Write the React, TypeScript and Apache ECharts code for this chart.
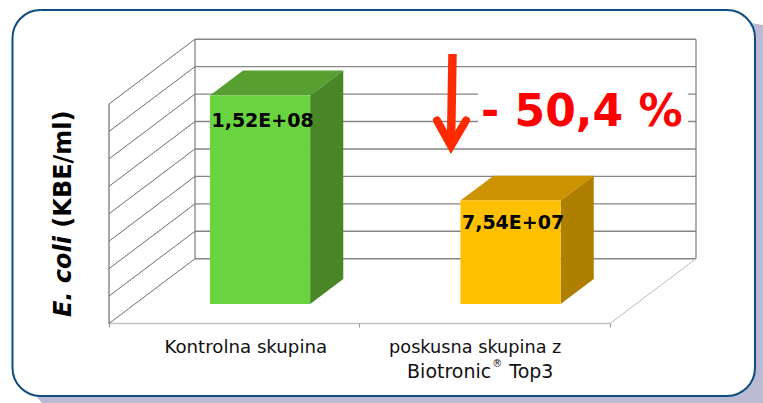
import React, { useEffect, useRef } from "react";
import * as echarts from "echarts";

const categories = ["Kontrolna skupina", "poskusna skupina z\nBiotronic® Top3"];
const values = [1.52e8, 7.54e7];
const valueLabels = ["1,52E+08", "7,54E+07"];
const yTicks = [0, 2e7, 4e7, 6e7, 8e7, 1e8, 1.2e8, 1.4e8, 1.6e8];
const faceColors = ["#6AD340", "#FFC000"];
const topColors = ["#569F30", "#CE9300"];
const sideColors = ["#488627", "#AE7F00"];
const dropLabel = "- 50,4 %";
const axisName = ["E. coli", " (KBE/ml)"];

const DEPTH_X = 86;
const DEPTH_Y = 64.8;
const BAR_FRONT = 0.3;
const BAR_DEPTH = 0.385;
const BAR_WIDTH = 0.4;
const LABEL_DROP = [24, 21];

function renderWall(params: any, api: any) {
  const cs = params.coordSys;
  const y = api.coord([0, api.value(0)])[1];
  const left = cs.x;
  const right = cs.x + cs.width;
  const isFloor = api.value(0) === 0;
  const children: any[] = [
    {
      type: "line",
      shape: { x1: left, y1: y, x2: left + DEPTH_X, y2: y - DEPTH_Y },
      style: { stroke: "#6e6e6e", lineWidth: 1 },
    },
    {
      type: "line",
      shape: { x1: left + DEPTH_X, y1: y - DEPTH_Y, x2: right + DEPTH_X, y2: y - DEPTH_Y },
      style: { stroke: "#868686", lineWidth: 1.4 },
    },
  ];
  if (isFloor) {
    children.push({
      type: "line",
      shape: { x1: right, y1: y, x2: right + DEPTH_X, y2: y - DEPTH_Y },
      style: { stroke: "#bdbdbd", lineWidth: 1 },
    });
    const topY = api.coord([0, yTicks[yTicks.length - 1]])[1];
    [left + DEPTH_X, right + DEPTH_X].forEach((x) =>
      children.push({
        type: "line",
        shape: { x1: x, y1: y - DEPTH_Y, x2: x, y2: topY - DEPTH_Y },
        style: { stroke: "#7a7a7a", lineWidth: 1.2 },
      })
    );
    children.push({
      type: "line",
      shape: { x1: left, y1: y, x2: left, y2: topY },
      style: { stroke: "#6e6e6e", lineWidth: 1.2 },
    });
  }
  return { type: "group", children };
}

function renderBar(params: any, api: any) {
  const i = params.dataIndex;
  const band = api.size([1, 0])[0];
  const cx = api.coord([i, 0])[0];
  const y0 = api.coord([i, 0])[1];
  const y1 = api.coord([i, api.value(1)])[1];
  const w = band * BAR_WIDTH;
  const fx = DEPTH_X * BAR_FRONT;
  const fy = DEPTH_Y * BAR_FRONT;
  const dx = DEPTH_X * BAR_DEPTH;
  const dy = DEPTH_Y * BAR_DEPTH;
  const x0 = cx + fx - w / 2;
  const x1 = x0 + w;
  const bot = y0 - fy;
  const top = y1 - fy;
  return {
    type: "group",
    children: [
      {
        type: "polygon",
        shape: { points: [[x0, top], [x1, top], [x1 + dx, top - dy], [x0 + dx, top - dy]] },
        style: { fill: topColors[i] },
      },
      {
        type: "polygon",
        shape: { points: [[x1, bot], [x1 + dx, bot - dy], [x1 + dx, top - dy], [x1, top]] },
        style: { fill: sideColors[i] },
      },
      { type: "rect", shape: { x: x0, y: top, width: w, height: bot - top }, style: { fill: faceColors[i] } },
      {
        type: "text",
        style: {
          x: cx + fx + 2.5,
          y: top + LABEL_DROP[i],
          text: valueLabels[i],
          fill: "#000",
          font: 'bold 19px "DejaVu Sans"',
          align: "center",
          verticalAlign: "middle",
        },
      },
    ],
  };
}

export default function App() {
  const ref = useRef<HTMLDivElement>(null);
  useEffect(() => {
    const chart = echarts.init(ref.current!, null, { renderer: "svg" });
    const font = '"DejaVu Sans"';
    const labelStyle = { fontFamily: font, fontSize: 17.7, color: "#111", lineHeight: 24 };
    chart.setOption({
      animation: false,
      backgroundColor: "#fff",
      textStyle: { fontFamily: font },
      grid: { left: 109, right: 153, top: 104, bottom: 79.5 },
      xAxis: {
        type: "category",
        data: categories,
        axisLine: { show: true, lineStyle: { color: "#c4c4c4", width: 1.4 } },
        axisTick: { show: true, length: 4, lineStyle: { color: "#9a9a9a", width: 1 } },
        splitLine: { show: false },
        axisLabel: {
          margin: 11,
          interval: 0,
          formatter: (v: string) => {
            if (v.startsWith("Kontrolna")) return `{a|${v}}`;
            const [first, second] = v.split("\n");
            const [pre, post] = second.split("®");
            return `{b|${first}}\n{c|${pre}}{sup|®}{d|${post}}`;
          },
          rich: {
            a: { ...labelStyle, fontSize: 18.2, padding: [0, 0, 0, 23] },
            b: { ...labelStyle, padding: [0, 19, 0, 0] },
            c: { ...labelStyle, fontSize: 19 },
            sup: { ...labelStyle, fontSize: 10, verticalAlign: "top", padding: [0, 1, 8, 1] },
            d: { ...labelStyle, fontSize: 19, padding: [0, 9, 0, 0] },
          },
        },
      },
      yAxis: {
        type: "value",
        min: 0,
        max: 1.6e8,
        interval: 2e7,
        axisLine: { show: false },
        axisTick: { show: false },
        splitLine: { show: false },
        axisLabel: { show: false },
        name: `{i|${axisName[0]}}{b|${axisName[1]}}`,
        nameLocation: "middle",
        nameRotate: 90,
        nameGap: 34,
        nameTextStyle: {
          rich: {
            i: { fontFamily: font, fontSize: 24, fontWeight: "bold", fontStyle: "italic", color: "#000" },
            b: { fontFamily: font, fontSize: 24, fontWeight: "bold", color: "#000" },
          },
        },
      },
      series: [
        { type: "custom", renderItem: renderWall, data: yTicks.map((v) => [v]), z: 2, silent: true, encode: { y: 0 } },
        { type: "custom", renderItem: renderBar, data: values.map((v, i) => [i, v]), z: 4, silent: true, encode: { x: 0, y: 1 } },
      ],
      graphic: [
        { type: "polygon", z: -3, shape: { points: [[745, 22], [763, 25], [763, 403], [42, 403], [36, 396]] }, style: { fill: "#BABBD3" } },
        { type: "rect", z: -2, shape: { x: 12.5, y: 10, width: 742.5, height: 386, r: 28 }, style: { fill: "#fff", stroke: "#0F4C81", lineWidth: 2 } },
        { type: "rect", z: 10, shape: { x: 478, y: 80, width: 210, height: 56 }, style: { fill: "#fff" } },
        { type: "text", z: 11, style: { x: 481, y: 110, text: dropLabel, fill: "#FF0000", font: `bold 44px ${font}`, verticalAlign: "middle" } },
        { type: "line", z: 12, shape: { x1: 452.5, y1: 54, x2: 451, y2: 145 }, style: { stroke: "#FF2A00", lineWidth: 8.5 } },
        { type: "polyline", z: 12, shape: { points: [[437, 120.5], [451, 146], [466, 120.5]] }, style: { stroke: "#FF2A00", lineWidth: 8, fill: "none", lineCap: "round", lineJoin: "miter" } },
      ],
    });
    return () => chart.dispose();
  }, []);
  return <div ref={ref} style={{ position: "fixed", left: 0, top: 0, width: 763, height: 403 }} />;
}
